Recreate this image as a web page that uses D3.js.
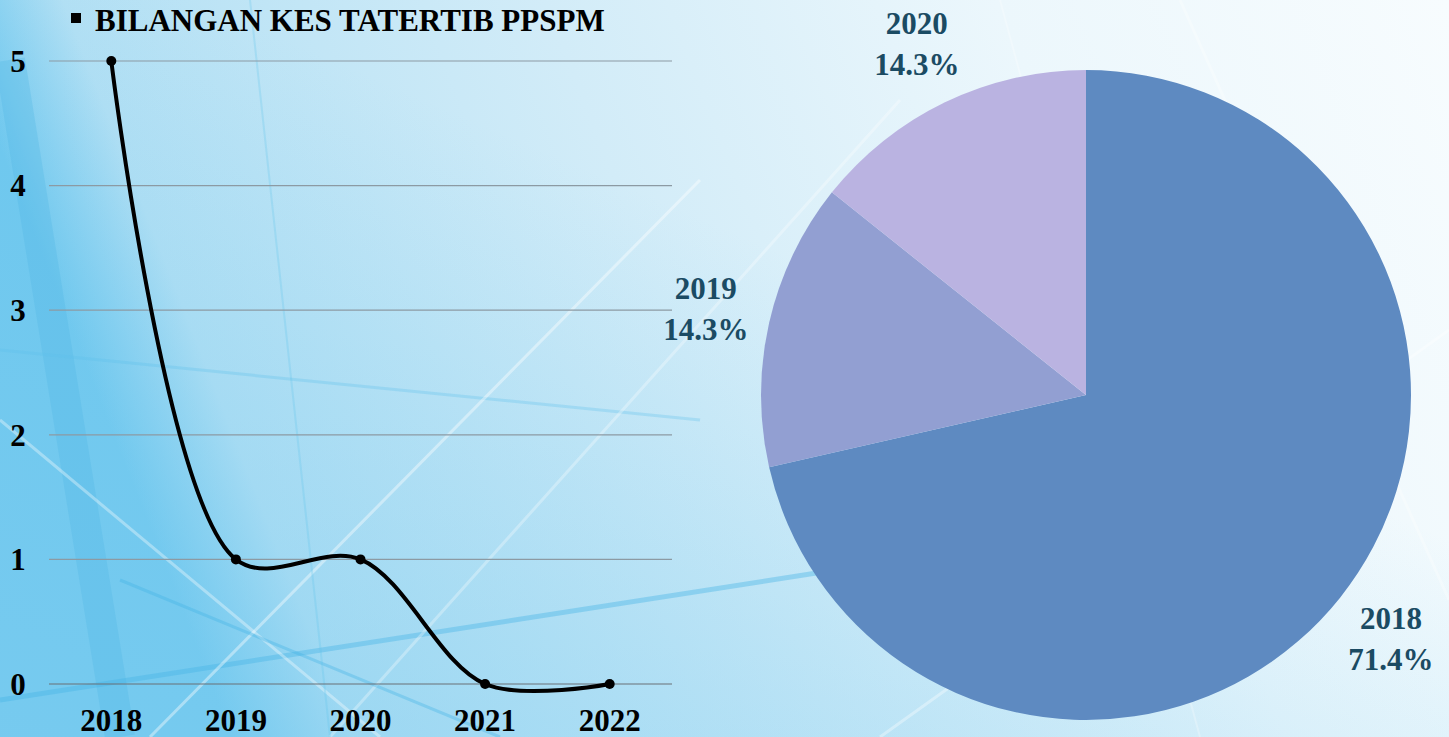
<!DOCTYPE html>
<html>
<head>
<meta charset="utf-8">
<script src="https://cdn.jsdelivr.net/npm/d3@7"></script>
<style>
  html, body { margin: 0; padding: 0; overflow: hidden; }
  body { width: 1449px; height: 737px; }
  text { font-family: "Liberation Serif", "Times New Roman", serif; font-weight: bold; }
</style>
</head>
<body>
<div id="chart"></div>
<script>
// data
const years = ['2018', '2019', '2020', '2021', '2022']
const cases = [5, 1, 1, 0, 0]
const yTicks = [0, 1, 2, 3, 4, 5]
const seriesName = 'BILANGAN KES TATERTIB PPSPM'
const pieColors = ['#5e8ac1', '#929fd2', '#bab3e1', '#7f9bd0', '#a9a4dc']

const width = 1449, height = 737

const svg = d3.select('#chart').append('svg')
  .attr('width', width)
  .attr('height', height)

// background
const defs = svg.append('defs')
const bg = defs.append('linearGradient')
  .attr('id', 'bg')
  .attr('x1', 0).attr('y1', 0.2).attr('x2', 1).attr('y2', 0)
bg.append('stop').attr('offset', 0).attr('stop-color', '#6cc7ee')
bg.append('stop').attr('offset', 0.08).attr('stop-color', '#b3e0f4')
bg.append('stop').attr('offset', 0.4).attr('stop-color', '#d2ecf8')
bg.append('stop').attr('offset', 0.7).attr('stop-color', '#ecf7fc')
bg.append('stop').attr('offset', 1).attr('stop-color', '#f7fcfe')
const bg2 = defs.append('linearGradient')
  .attr('id', 'bg2')
  .attr('x1', 0).attr('y1', 1).attr('x2', 0.55).attr('y2', 0.35)
bg2.append('stop').attr('offset', 0).attr('stop-color', '#7fcdf0').attr('stop-opacity', 0.55)
bg2.append('stop').attr('offset', 1).attr('stop-color', '#7fcdf0').attr('stop-opacity', 0)

svg.append('rect').attr('width', width).attr('height', height).attr('fill', 'url(#bg)')
svg.append('rect').attr('width', width).attr('height', height).attr('fill', 'url(#bg2)')

// decorative streaks
const streaks = [
  [10, 60, 120, 737, '#4fb6e6', 0.3, 30],
  [0, 350, 700, 420, '#5cc0ea', 0.3, 3],
  [0, 700, 900, 560, '#45b4e6', 0.4, 5],
  [150, 737, 700, 180, '#ffffff', 0.4, 3],
  [330, 737, 900, 100, '#ffffff', 0.3, 3],
  [0, 420, 380, 737, '#ffffff', 0.35, 3],
  [120, 580, 500, 737, '#3fb2e6', 0.35, 3],
  [250, 0, 330, 737, '#5cc3ea', 0.25, 2],
  [880, 737, 1449, 330, '#ffffff', 0.35, 3],
  [1180, 0, 1449, 600, '#ffffff', 0.3, 3],
  [1000, 0, 1200, 737, '#ffffff', 0.25, 2]
]
svg.append('g').selectAll('line')
  .data(streaks)
  .join('line')
  .attr('x1', d => d[0]).attr('y1', d => d[1])
  .attr('x2', d => d[2]).attr('y2', d => d[3])
  .attr('stroke', d => d[4])
  .attr('stroke-opacity', d => d[5])
  .attr('stroke-width', d => d[6])

// line chart
const margin = { left: 49, right: 672, top: 61, bottom: 684 }
const x = d3.scaleBand().domain(years).range([margin.left, margin.right])
const y = d3.scaleLinear().domain([0, 5]).range([margin.bottom, margin.top])

const grid = svg.append('g')
grid.selectAll('line')
  .data(yTicks)
  .join('line')
  .attr('x1', margin.left).attr('x2', margin.right)
  .attr('y1', d => y(d)).attr('y2', d => y(d))
  .attr('stroke', d => d === 0 ? '#6b7177' : '#8c9aa3')
  .attr('stroke-width', 1.2)

svg.append('g').selectAll('text')
  .data(yTicks)
  .join('text')
  .attr('x', 18)
  .attr('y', d => y(d))
  .attr('dy', '0.35em')
  .attr('text-anchor', 'middle')
  .attr('font-size', 31)
  .attr('fill', '#000')
  .text(d => d)

svg.append('g').selectAll('text')
  .data(years)
  .join('text')
  .attr('x', d => x(d) + x.bandwidth() / 2)
  .attr('y', 731)
  .attr('text-anchor', 'middle')
  .attr('font-size', 31)
  .attr('fill', '#000')
  .text(d => d)

const points = years.map((d, i) => [x(d) + x.bandwidth() / 2, y(cases[i])])
svg.append('path')
  .datum(points)
  .attr('fill', 'none')
  .attr('stroke', '#000')
  .attr('stroke-width', 4)
  .attr('d', d3.line().curve(d3.curveCatmullRom))

svg.append('g').selectAll('circle')
  .data(points)
  .join('circle')
  .attr('cx', d => d[0]).attr('cy', d => d[1])
  .attr('r', 5)
  .attr('fill', '#000')

// legend
svg.append('rect')
  .attr('x', 71).attr('y', 13)
  .attr('width', 10).attr('height', 10)
  .attr('fill', '#000')
svg.append('text')
  .attr('x', 95).attr('y', 31)
  .attr('font-size', 31)
  .attr('fill', '#000')
  .text(seriesName)

// pie chart
const cx = 1086, cy = 395, r = 325
const pieData = years.map((d, i) => ({ year: d, value: cases[i], color: pieColors[i] }))
const total = d3.sum(cases)
const arcs = d3.pie().sort(null).value(d => d.value)(pieData).filter(d => d.value > 0)
const arc = d3.arc().innerRadius(0).outerRadius(r)
const labelArc = d3.arc().innerRadius(r * 1.2).outerRadius(r * 1.2)

const pieG = svg.append('g').attr('transform', `translate(${cx},${cy})`)
pieG.selectAll('path')
  .data(arcs)
  .join('path')
  .attr('d', arc)
  .attr('fill', d => d.data.color)

const labels = pieG.selectAll('g.label')
  .data(arcs)
  .join('g')
  .attr('class', 'label')
  .attr('transform', d => `translate(${labelArc.centroid(d)})`)
labels.append('text')
  .attr('y', -20)
  .attr('dy', '0.35em')
  .attr('text-anchor', 'middle')
  .attr('font-size', 31)
  .attr('fill', '#1b4b63')
  .text(d => d.data.year)
labels.append('text')
  .attr('y', 21)
  .attr('dy', '0.35em')
  .attr('text-anchor', 'middle')
  .attr('font-size', 31)
  .attr('fill', '#1b4b63')
  .text(d => d3.format('.1%')(d.value / total))
</script>
</body>
</html>
